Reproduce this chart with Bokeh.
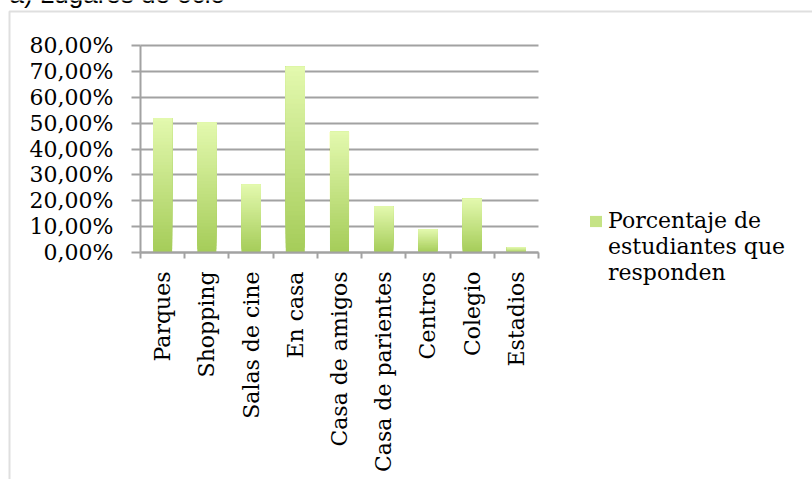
import numpy as np
from bokeh.plotting import figure
from bokeh.models import Range1d, FixedTicker, Label, Legend, LegendItem, BoxAnnotation, Grid
from bokeh.embed import file_html
from bokeh.resources import INLINE

# ---------------- data ----------------
categories = ["Parques", "Shopping", "Salas de cine", "En casa", "Casa de amigos",
              "Casa de parientes", "Centros", "Colegio", "Estadios"]
percent = [0.520, 0.502, 0.263, 0.718, 0.467, 0.178, 0.089, 0.208, 0.020]
y_ticks = [0.0, 0.1, 0.2, 0.3, 0.4, 0.5, 0.6, 0.7, 0.8]
y_tick_labels = ["0,00%", "10,00%", "20,00%", "30,00%", "40,00%",
                 "50,00%", "60,00%", "70,00%", "80,00%"]
series_name_lines = ["Porcentaje de", "estudiantes que", "responden"]
title_text = "a) Lugares de ocio"

SERIF = "DejaVu Serif"
GRID = "#a2a2a2"
BORDER = "#969696"

n = len(categories)
centers = [i + 0.5 for i in range(n)]
y_max = y_ticks[-1]

# layout (pixels): plot area x 140..538, y 45..252 in an 812x479 canvas
W, H = 812, 479
PL, PR, PT, PB = 140, 538, 45, 252
ux = (PR - PL) / n
uy = (PB - PT) / y_max
x_range = Range1d(-PL / ux, n + (W - PR) / ux)
y_range = Range1d(-(H - PB) / uy, y_max + PT / uy)

p = figure(width=W, height=H, min_border=0, x_range=x_range, y_range=y_range,
           output_backend="svg", toolbar_location=None,
           background_fill_color="white", border_fill_color="white")
p.title.visible = False
p.outline_line_color = None

# grid lines (limited to plot area)
p.xgrid.grid_line_color = None
yg = p.ygrid[0]
if "cross_bounds" in Grid.properties():
    yg.ticker = FixedTicker(ticks=y_ticks)
    yg.bounds = (0, y_max)
    yg.cross_bounds = (0, n)
    yg.grid_line_color = GRID
    yg.grid_line_width = 2
else:
    yg.grid_line_color = None
    p.segment(x0=[0] * len(y_ticks), x1=[n] * len(y_ticks), y0=y_ticks, y1=y_ticks,
              line_color=GRID, line_width=2)

# gradient bars: overlapping slices (dark bottom -> light top)
N = 40
c_bot = np.array([0xa6, 0xcd, 0x5a])
c_top = np.array([0xe3, 0xf9, 0xae])
renderers = []
for k in range(N):
    f = k / (N - 1)
    c = (c_bot * (1 - f) + c_top * f).astype(int)
    col = "#%02x%02x%02x" % tuple(c)
    bottoms = [v * k / N for v in percent]
    r = p.vbar(x=centers, width=0.43, bottom=bottoms, top=percent,
               fill_color=col, line_color=None)
    renderers.append(r)

# axes fixed at the plot-area edges
xa = p.xaxis[0]
xa.fixed_location = 0
xa.bounds = (0, n)
xa.ticker = FixedTicker(ticks=centers, minor_ticks=list(range(n + 1)))
xa.major_label_overrides = {c: lab for c, lab in zip(centers, categories)}
xa.major_label_orientation = np.pi / 2
xa.major_tick_out = 0
xa.major_tick_in = 0
xa.minor_tick_out = 6
xa.minor_tick_in = 0
xa.minor_tick_line_color = GRID
xa.minor_tick_line_width = 2
xa.axis_line_color = GRID
xa.axis_line_width = 2
xa.major_label_standoff = 13
xa.major_label_text_font = SERIF
xa.major_label_text_font_size = "22px"
xa.major_label_text_color = "black"

ya = p.yaxis[0]
ya.fixed_location = 0
ya.bounds = (0, y_max)
ya.ticker = FixedTicker(ticks=y_ticks)
ya.major_label_overrides = {tk: lab for tk, lab in zip(y_ticks, y_tick_labels)}
ya.major_tick_out = 9
ya.major_tick_in = 0
ya.minor_tick_line_color = None
ya.major_tick_line_color = GRID
ya.major_tick_line_width = 2
ya.axis_line_color = GRID
ya.axis_line_width = 2
ya.major_label_standoff = 18
ya.major_label_text_font = SERIF
ya.major_label_text_font_size = "22px"
ya.major_label_text_color = "black"

# chart box border (left and top edges visible)
p.add_layout(BoxAnnotation(left=9, right=W + 50, top=H - 11, bottom=-50,
                           left_units="screen", right_units="screen",
                           top_units="screen", bottom_units="screen",
                           fill_alpha=0, line_color=BORDER, line_width=2))

# chart title, mostly cropped at the top edge
p.add_layout(Label(x=9, y=H + 7, x_units="screen", y_units="screen",
                   text=title_text, text_font="Liberation Sans",
                   text_font_size="26px", text_color="black",
                   text_baseline="alphabetic"))

# legend: swatch beside first line, wrapped series name below
blank1 = p.vbar(x=[], width=0.43, top=[], fill_alpha=0, line_color=None)
blank2 = p.vbar(x=[], width=0.43, top=[], fill_alpha=0, line_color=None)
items = [LegendItem(label=series_name_lines[0], renderers=[renderers[N // 2]]),
         LegendItem(label=series_name_lines[1], renderers=[blank1]),
         LegendItem(label=series_name_lines[2], renderers=[blank2])]
legend = Legend(items=items, location=(588, H - 285), border_line_color=None,
                background_fill_alpha=0, padding=0, margin=0, spacing=1,
                glyph_width=15, glyph_height=14, label_standoff=5,
                label_text_font=SERIF, label_text_font_size="22px",
                label_text_color="black")
p.add_layout(legend, "center")

open("out.html", "w").write(file_html(p, INLINE))
